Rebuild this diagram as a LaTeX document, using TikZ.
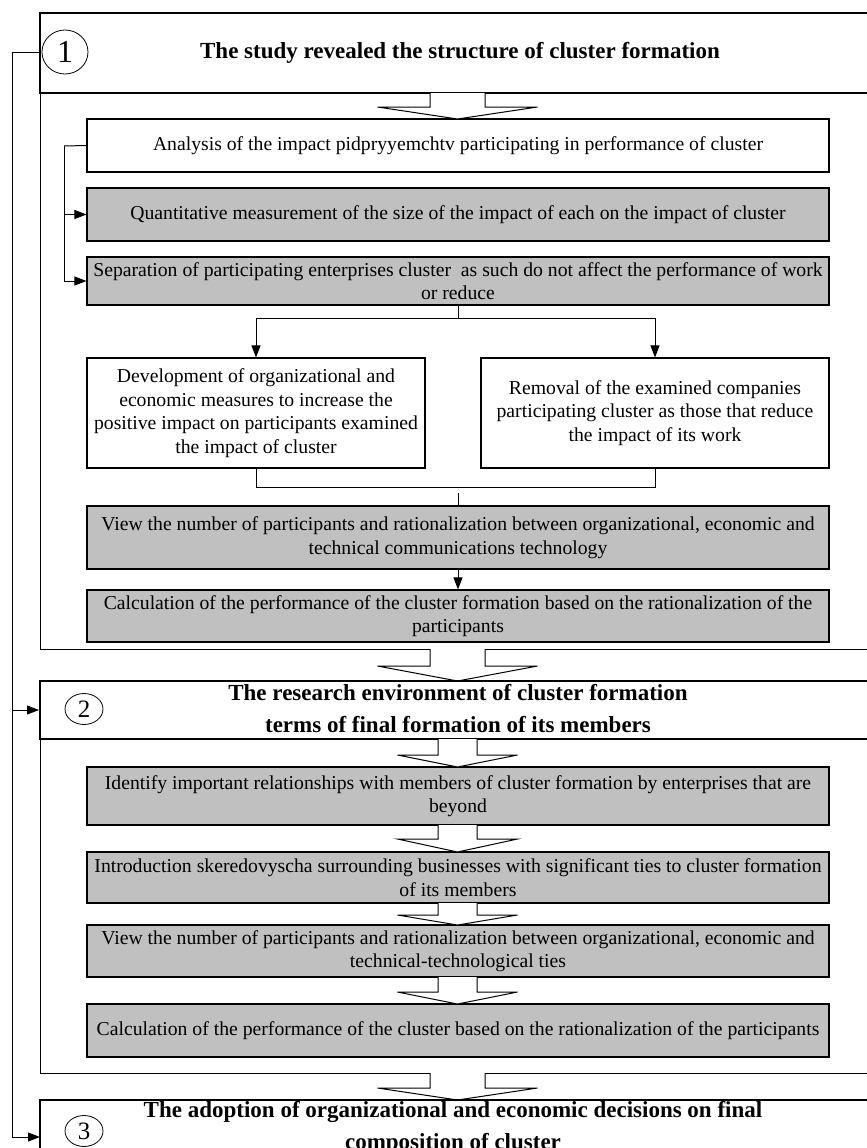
\documentclass[tikz,border=0pt]{standalone}
\usepackage{fontspec}
\setmainfont{Liberation Serif}
\usetikzlibrary{arrows.meta,shapes.geometric}
\definecolor{boxgray}{RGB}{192,192,192}
\tikzset{
  stagebox/.style={draw, line width=1.1pt, align=center, inner sep=1pt,
    font=\fontsize{19.7}{23.5}\selectfont},
  greybox/.style={stagebox, fill=boxgray},
  headbox/.style={draw, line width=2pt, minimum width=860pt, inner sep=0pt},
  headtext/.style={align=center, inner sep=0pt, font=\bfseries\fontsize{23}{32}\selectfont},
  numring/.style={draw, ellipse, line width=0.8pt, inner sep=0pt},
  flowline/.style={line width=1pt},
  flowarrow/.style={line width=1pt, -{Triangle[length=12pt,width=9pt]}},
  hollow/.style={draw, line width=1pt, fill=white}
}
% hollow block arrow: {top}{head base}{tip}{shaft half}{head half}
\newcommand{\hollowarrow}[5]{%
  \draw[hollow] (457.5-#4,#1) -- (457.5-#4,#2) -- (457.5-#5,#2) -- (457.5,#3)
    -- (457.5+#5,#2) -- (457.5+#4,#2) -- (457.5+#4,#1);}
\begin{document}
\begin{tikzpicture}[x=1pt,y=-1pt]
\useasboundingbox (0,0) rectangle (867,1148);
\clip (0,0) rectangle (867,1148);

% stage frames
\draw[flowline] (40,93) rectangle (900,649);
\draw[flowline] (40,739) rectangle (900,1073);

% stage 1
\node[headbox, minimum height=80pt, fill=white] (hdr1) at (470,53) {};
\node[numring, minimum width=46pt, minimum height=44pt, font=\fontsize{32}{32}\selectfont] (ring1) at (65,52) {1};
\node[headtext] (title1) at (460,53) {The study revealed the structure of cluster formation};

\node[stagebox, minimum width=742pt, minimum height=53pt] (analysis) at (458,145.5)
  {Analysis of the impact pidpryyemchtv participating in performance of cluster};
\node[greybox, minimum width=742pt, minimum height=53pt] (quant) at (458,214.5)
  {Quantitative measurement of the size of the impact of each on the impact of cluster};
\node[greybox, minimum width=742pt, minimum height=48pt] (sep) at (458,281)
  {Separation of participating enterprises cluster\ \ as such do not affect the performance of work\\ or reduce};
\node[stagebox, minimum width=338pt, minimum height=110pt] (dev) at (256,413)
  {Development of organizational and\\ economic measures to increase the\\ positive impact on participants examined\\ the impact of cluster};
\node[stagebox, minimum width=348pt, minimum height=110pt] (rem) at (655,413)
  {Removal of the examined companies\\ participating cluster as those that reduce\\ the impact of its work};
\node[greybox, minimum width=742pt, minimum height=63pt] (view1) at (458,537.5)
  {View the number of participants and rationalization between organizational, economic and\\ technical communications technology};
\node[greybox, minimum width=742pt, minimum height=52pt] (calc1) at (458,616)
  {Calculation of the performance of the cluster formation based on the rationalization of the\\ participants};

\coordinate (spine) at (64,146);
\coordinate (split) at (458,318);
\coordinate (joinL) at (256,487);
\coordinate (joinR) at (655,487);
\coordinate (stem) at (458,493);

\draw[flowline] (analysis.west) -- (spine);
\draw[flowarrow] (spine) |- (quant.west);
\draw[flowarrow] (spine) |- (sep.west);
\draw[flowline] (sep.south) -- (split);
\draw[flowarrow] (split) -| (dev.north);
\draw[flowarrow] (split) -| (rem.north);
\draw[flowline] (dev.south) -- (joinL) -- (joinR) -- (rem.south);
\draw[flowline] (stem) -- (view1.north);
\draw[flowarrow] (view1.south) -- (calc1.north);

\hollowarrow{93}{107}{119}{27.5}{80}
\hollowarrow{649}{666}{681}{27.5}{80}

% stage 2
\node[headbox, minimum height=58pt] (hdr2) at (470,710) {};
\node[numring, minimum width=38pt, minimum height=31pt, font=\fontsize{25}{25}\selectfont] (ring2) at (84,709) {2};
\node[headtext] (title2) at (458,709) {The research environment of cluster formation\\ terms of final formation of its members};

\node[greybox, minimum width=742pt, minimum height=58pt] (ident) at (458,796)
  {Identify important relationships with members of cluster formation by enterprises that are\\ beyond};
\node[greybox, minimum width=742pt, minimum height=51pt] (intro) at (458,877.5)
  {Introduction skeredovyscha surrounding businesses with significant ties to cluster formation\\ of its members};
\node[greybox, minimum width=742pt, minimum height=52pt] (view2) at (458,951)
  {View the number of participants and rationalization between organizational, economic and\\ technical-technological ties};
\node[greybox, minimum width=742pt, minimum height=53pt] (calc2) at (458,1030.5)
  {Calculation of the performance of the cluster based on the rationalization of the participants};

\hollowarrow{739}{755}{767}{19.5}{60}
\hollowarrow{825}{839}{852}{19.5}{60}
\hollowarrow{903}{915}{925}{19.5}{60}
\hollowarrow{977}{992}{1004}{19.5}{60}
\hollowarrow{1073}{1088}{1100}{27.5}{80}

% stage 3
\node[headbox, minimum height=100pt] (hdr3) at (470,1150) {};
\node[numring, minimum width=38pt, minimum height=31pt, font=\fontsize{25}{25}\selectfont] (ring3) at (84,1131) {3};
\node[headtext, anchor=north] (title3) at (453,1101) {The adoption of organizational and economic decisions on final\\ composition of cluster};

% feedback loop
\coordinate (loopBot) at (12,1137);
\coordinate (in3) at (40,1137);
\draw[flowarrow] (hdr1.west) -| (loopBot) -- (in3);
\draw[flowarrow] (loopBot |- hdr2.west) -- (hdr2.west);

\end{tikzpicture}
\end{document}
